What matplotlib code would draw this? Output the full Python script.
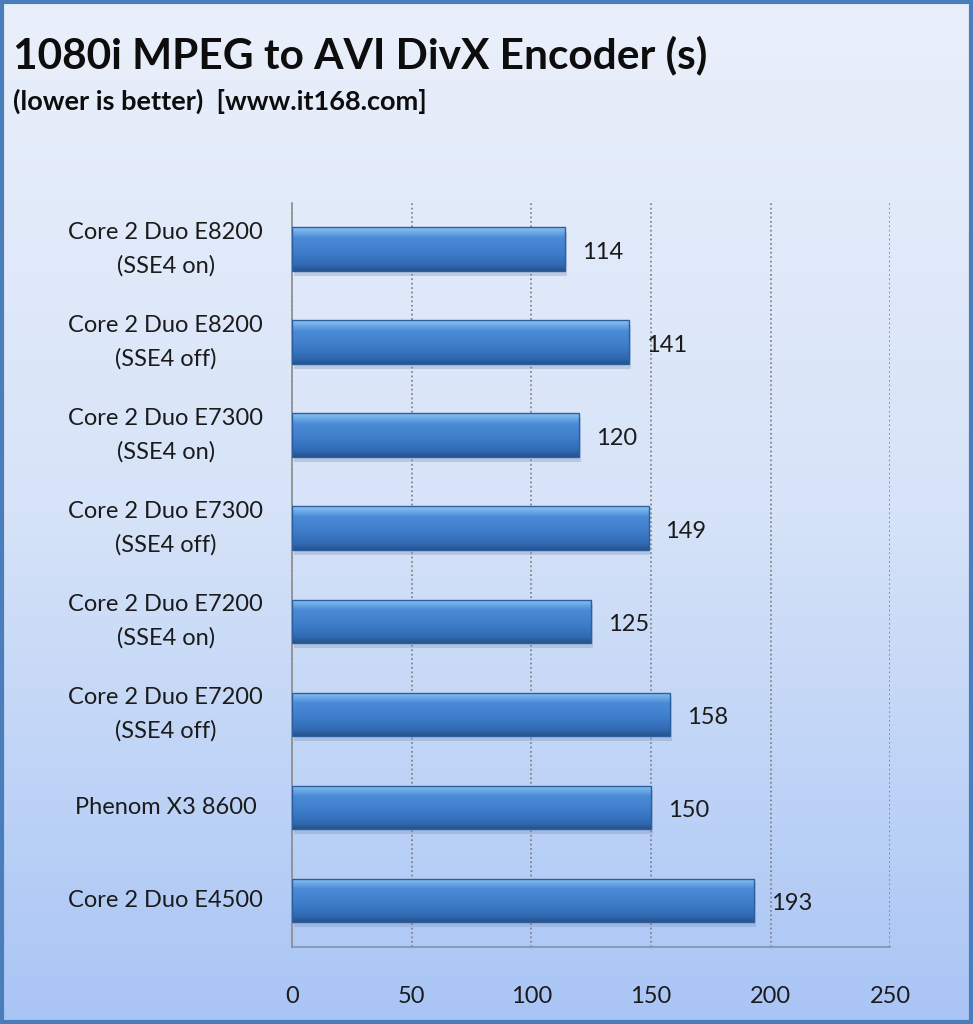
import numpy as np
import matplotlib
matplotlib.use("Agg")
import matplotlib.pyplot as plt
from matplotlib.colors import LinearSegmentedColormap
from matplotlib.patches import Rectangle

labels = [
    "Core 2 Duo E8200\n(SSE4 on)",
    "Core 2 Duo E8200\n(SSE4 off)",
    "Core 2 Duo E7300\n(SSE4 on)",
    "Core 2 Duo E7300\n(SSE4 off)",
    "Core 2 Duo E7200\n(SSE4 on)",
    "Core 2 Duo E7200\n(SSE4 off)",
    "Phenom X3 8600",
    "Core 2 Duo E4500",
]
seconds = [114, 141, 120, 149, 125, 158, 150, 193]
xticks = [0, 50, 100, 150, 200, 250]

plt.rcParams['font.family'] = ['Lato', 'DejaVu Sans']

fig = plt.figure(figsize=(9.73, 10.24), dpi=100)

# background gradient over the whole figure
bg = fig.add_axes([0, 0, 1, 1], zorder=0)
bg_cmap = LinearSegmentedColormap.from_list("bg", ["#eaf0fb", "#d6e3f8", "#a9c5f5"])
bg.imshow(np.linspace(0, 1, 256).reshape(-1, 1), aspect='auto', cmap=bg_cmap,
          extent=(0, 1, 0, 1), origin='upper')
bg.set_axis_off()
bg.add_patch(Rectangle((0.002, 0.002), 0.996, 0.996, transform=bg.transAxes,
                       fill=False, edgecolor='#4a7ebb', linewidth=3))

ax = fig.add_axes([0.300, 0.0752, 0.615, 0.7268], zorder=1)
ax.set_facecolor('none')

y = np.arange(len(labels))
bar_h = 0.47
bars = ax.barh(y, seconds, height=bar_h, color='#3f80cf', zorder=3)

bar_cmap = LinearSegmentedColormap.from_list(
    "bar", [(0.0, "#8ec3f2"), (0.12, "#6aa8e6"), (0.25, "#4a8ad7"),
            (0.6, "#3d7cc9"), (0.88, "#3068b0"), (1.0, "#25528c")])
grad = np.linspace(0, 1, 100).reshape(-1, 1)
for rect, v, yc in zip(bars, seconds, y):
    # soft shadow
    ax.add_patch(Rectangle((0.8, yc - bar_h / 2 + 0.05), v, bar_h,
                           color='#7f95b5', alpha=0.35, zorder=2, lw=0))
    im = ax.imshow(grad, aspect='auto', cmap=bar_cmap,
                   extent=(0, v, yc + bar_h / 2, yc - bar_h / 2),
                   zorder=4, interpolation='bilinear')
    im.set_clip_path(rect)
    ax.add_patch(Rectangle((0, yc - bar_h / 2), v, bar_h, fill=False,
                           edgecolor='#2d5f9e', lw=1, zorder=5))
    ax.text(v + 7, yc + 0.03, str(v), va='center', ha='left',
            fontsize=17, color='#1b1b1b', zorder=6)

ax.set_xlim(0, 250)
ax.set_ylim(len(labels) - 0.5, -0.5)
ax.set_xticks(xticks)
ax.set_yticks(y)
ax.set_yticklabels(labels, multialignment='center', linespacing=1.65)
ax.tick_params(axis='x', length=0, pad=28, labelsize=17, labelcolor='#1b1b1b')
ax.tick_params(axis='y', length=0, pad=20, labelsize=17, labelcolor='#1b1b1b')
for t in ax.get_yticklabels():
    t.set_horizontalalignment('center')
    t.set_verticalalignment('center')
    t.set_x(-0.211)
    t.set_transform(ax.get_yaxis_transform())

ax.grid(axis='x', linestyle=':', color='#7a7a7a', linewidth=1.2, zorder=1)
ax.set_axisbelow(True)
ax.spines['top'].set_visible(False)
ax.spines['right'].set_visible(False)
ax.spines['left'].set_color('#8c8c8c')
ax.spines['bottom'].set_color('#7f93b0')
ax.spines['left'].set_linewidth(1.2)
ax.spines['bottom'].set_linewidth(1.2)

fig.text(0.013, 0.933, "1080i MPEG to AVI DivX Encoder (s)", fontsize=30.5,
         fontweight='bold', color='#0d0d0d', va='baseline', ha='left')
fig.text(0.013, 0.8926, "(lower is better)  [www.it168.com]", fontsize=19.5,
         fontweight='bold', color='#0d0d0d', va='baseline', ha='left')

fig.savefig("out.png", dpi=100)
